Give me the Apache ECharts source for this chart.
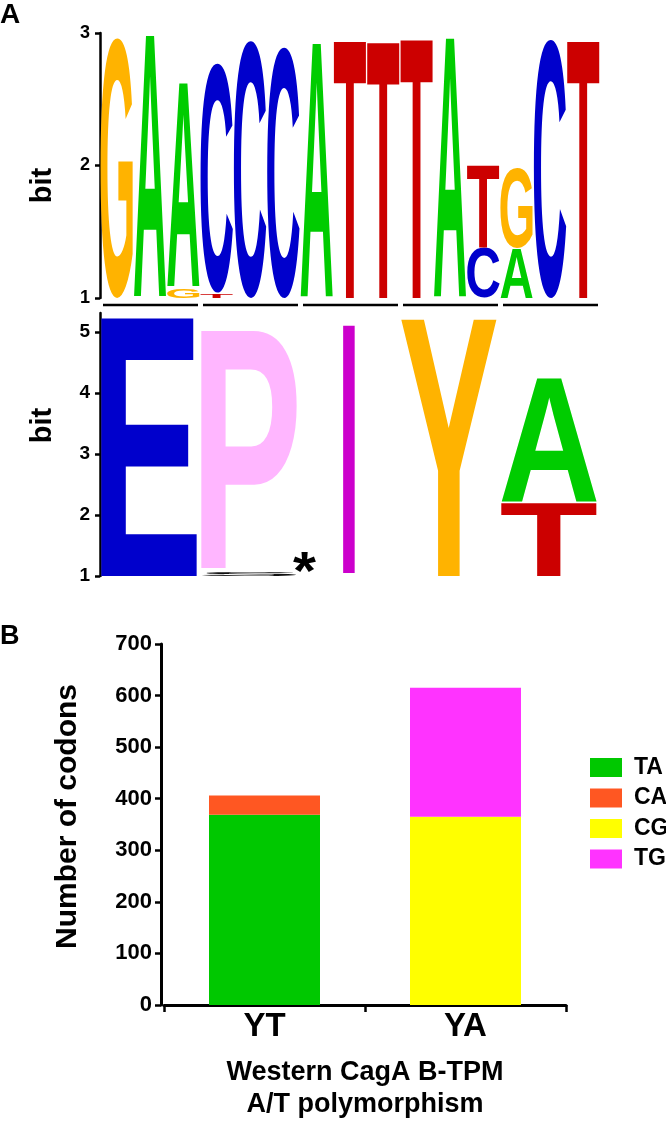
<!DOCTYPE html>
<html><head><meta charset="utf-8">
<script src="https://cdn.jsdelivr.net/npm/echarts@6/dist/echarts.min.js"></script>
<style>html,body{margin:0;padding:0;background:#fff}#c{width:666px;height:1122px}</style>
</head><body><div id="c"></div>
<script>
// ---------------- Data ----------------
// Panel A (top): nucleotide logo, 15 positions; each stack listed bottom -> top as [letter, bits]
const ntStacks = [
  [['G', 1.97]],
  [['A', 1.99]],
  [['G', 0.08], ['A', 1.55]],
  [['T', 0.04], ['C', 1.74]],
  [['C', 1.95]],
  [['C', 1.90]],
  [['A', 1.93]],
  [['T', 1.96]],
  [['T', 1.95]],
  [['T', 1.97]],
  [['A', 1.97]],
  [['C', 0.38], ['T', 0.63]],
  [['A', 0.38], ['G', 0.61]],
  [['C', 1.96]],
  [['T', 1.96]]
];
const ntColors = { A: '#00CC00', C: '#0000CC', G: '#FFB300', T: '#CC0000' };
const ntTicks = [1, 2, 3];
const codons = [1, 2, 3, 4, 5];
// Panel A (bottom): amino-acid logo, 5 positions
const aaStacks = [
  [['E', 4.25]],
  [['S', 0.07], [' ', 0.06], ['P', 3.94]],
  [[' ', 0.05], ['I', 4.11]],
  [['Y', 4.23]],
  [['T', 1.21], ['A', 2.05]]
];
const aaColors = { E: '#0000CC', P: '#FFB6FF', I: '#CC00CC', Y: '#FFB300', A: '#00CC00', T: '#CC0000', S: '#111111' };
const aaTicks = [1, 2, 3, 4, 5];
const logoBase = 1;
// Panel B: stacked bars
const categories = ['YT', 'YA'];
const seriesNames = ['TA', 'CA', 'CG', 'TG'];
const TA = [369, 0];
const CA = [37, 0];
const CG = [0, 365];
const TG = [0, 250];
const barColors = ['#00C800', '#FF5722', '#FFFF00', '#FF33FF'];

// ---------------- Helpers ----------------
const FF = '"Liberation Sans", Arial, Helvetica, sans-serif';
const GF = 'bold 200px ' + FF;
const mctx = document.createElement('canvas').getContext('2d');
const mcache = {};
function metrics(ch) {
  if (!mcache[ch]) {
    mctx.font = GF; mctx.textBaseline = 'middle'; mctx.textAlign = 'left';
    const m = mctx.measureText(ch);
    mcache[ch] = { l: m.actualBoundingBoxLeft, r: m.actualBoundingBoxRight, a: m.actualBoundingBoxAscent, d: m.actualBoundingBoxDescent };
  }
  return mcache[ch];
}
function fitGlyph(ch, x0, yTop, w, h, fill) {
  const m = metrics(ch);
  const sx = w / (m.l + m.r), sy = h / (m.a + m.d);
  return {
    type: 'text', x: x0 + sx * m.l, y: yTop + sy * m.a, scaleX: sx, scaleY: sy, silent: true,
    style: { text: ch, x: 0, y: 0, font: GF, fill: fill, align: 'left', verticalAlign: 'middle', textAlign: 'left', textVerticalAlign: 'middle' }
  };
}
function flatten(stacks) {
  const out = [];
  stacks.forEach((st, i) => {
    let y = logoBase;
    st.forEach(([ch, h]) => { out.push({ col: i + 1, y0: y, y1: y + h, ch: ch }); y += h; });
  });
  return out;
}
const ntMarks = flatten(ntStacks);
const aaMarks = flatten(aaStacks);

function ntRender(params, api) {
  const mk = ntMarks[params.dataIndex];
  if (mk.ch === ' ') return null;
  const pTL = api.coord([api.value(0) - 0.5, api.value(2)]);
  const pBR = api.coord([api.value(0) + 0.5, api.value(1)]);
  return fitGlyph(mk.ch, pTL[0] + 0.5, pTL[1] + 1, pBR[0] - pTL[0] - 1, pBR[1] - pTL[1] - 1, ntColors[mk.ch]);
}
function aaRender(params, api) {
  const mk = aaMarks[params.dataIndex];
  if (mk.ch === ' ') return null;
  const pTL = api.coord([api.value(0) - 0.5, api.value(2)]);
  const pBR = api.coord([api.value(0) + 0.5, api.value(1)]);
  let x0 = pTL[0] + 1, w = pBR[0] - pTL[0] - 4;
  if (mk.ch === 'I') { const cx = (pTL[0] + pBR[0]) / 2 - 1; w = 12; x0 = cx - w / 2; }
  return fitGlyph(mk.ch, x0, pTL[1] + 1, w, pBR[1] - pTL[1] - 1, aaColors[mk.ch]);
}
function underlineRender(params, api) {
  const k = api.value(0);
  const pL = api.coord([3 * k - 2.5, logoBase]);
  const pR = api.coord([3 * k + 0.5, logoBase]);
  return { type: 'line', silent: true, shape: { x1: pL[0] + 3, y1: pL[1] + 7, x2: pR[0] - 2, y2: pL[1] + 7 }, style: { stroke: '#000', lineWidth: 2.5 } };
}

const axisCommon = {
  axisLine: { show: true, lineStyle: { color: '#000', width: 2.5 } },
  splitLine: { show: false }
};

const chart = echarts.init(document.getElementById('c'), null, { renderer: 'canvas' });
const option = {
  animation: false,
  backgroundColor: '#fff',
  textStyle: { fontFamily: FF, color: '#000' },
  grid: [
    { left: 100, top: 33, width: 500, height: 265, outerBoundsMode: 'none' },
    { left: 100, top: 313, width: 500, height: 263, outerBoundsMode: 'none' },
    { left: 164, top: 644, width: 402, height: 361, outerBoundsMode: 'none' }
  ],
  xAxis: [
    { gridIndex: 0, type: 'value', min: 0.5, max: 15.5, show: false },
    { gridIndex: 1, type: 'value', min: 0.5, max: 5.5, show: false },
    {
      gridIndex: 2, type: 'category', data: categories,
      axisLine: { show: true, lineStyle: { color: '#000', width: 3 } },
      axisTick: { show: true, length: 7, lineStyle: { color: '#000', width: 2.5 } },
      axisLabel: { fontSize: 33, fontWeight: 'bold', color: '#000', margin: 5, fontFamily: FF },
      name: 'Western CagA B-TPM\nA/T polymorphism', nameLocation: 'middle', nameGap: 52,
      nameTextStyle: { fontSize: 27, fontWeight: 'bold', lineHeight: 32, color: '#000', fontFamily: FF }
    }
  ],
  yAxis: [
    Object.assign({}, axisCommon, {
      gridIndex: 0, type: 'value', min: 1, max: 3, interval: 1,
      axisLabel: { fontSize: 18, fontWeight: 'bold', color: '#000', margin: 10, fontFamily: FF, customValues: ntTicks },
      axisTick: { show: true, length: 5, lineStyle: { color: '#000', width: 2.5 }, customValues: ntTicks },
      name: 'bit', nameLocation: 'middle', nameGap: 43, nameRotate: 90,
      nameTextStyle: { fontSize: 29, fontWeight: 'bold', color: '#000', fontFamily: FF, padding: [0, 40, 0, 0] }
    }),
    Object.assign({}, axisCommon, {
      gridIndex: 1, type: 'value', min: 1, max: 5.31,
      axisLabel: { fontSize: 19, fontWeight: 'bold', color: '#000', margin: 10, fontFamily: FF, customValues: aaTicks },
      axisTick: { show: true, length: 5, lineStyle: { color: '#000', width: 2.5 }, customValues: aaTicks },
      name: 'bit', nameLocation: 'middle', nameGap: 43, nameRotate: 90,
      nameTextStyle: { fontSize: 29, fontWeight: 'bold', color: '#000', fontFamily: FF, padding: [0, 0, 0, 38] }
    }),
    Object.assign({}, axisCommon, {
      gridIndex: 2, type: 'value', min: 0, max: 700, interval: 100, offset: 3,
      axisLine: { show: true, lineStyle: { color: '#000', width: 3 } },
      axisTick: { show: true, length: 6, lineStyle: { color: '#000', width: 2.5 } },
      axisLabel: { fontSize: 22, fontWeight: 'bold', color: '#000', margin: 9, fontFamily: FF },
      name: 'Number of codons', nameLocation: 'middle', nameGap: 78, nameRotate: 90,
      nameTextStyle: { fontSize: 30, fontWeight: 'bold', color: '#000', fontFamily: FF, padding: [0, 0, 0, 16] }
    })
  ],
  legend: {
    data: seriesNames, orient: 'vertical', left: 590, top: 756, padding: 0,
    itemWidth: 32, itemHeight: 19, itemGap: 7.5, icon: 'rect', selectedMode: false,
    textStyle: { fontSize: 23, fontWeight: 'bold', color: '#000', fontFamily: FF, padding: [0, 0, 0, 7] }
  },
  series: [
    { type: 'custom', name: 'nt', xAxisIndex: 0, yAxisIndex: 0, clip: false, silent: true,
      renderItem: ntRender, encode: { x: 0, y: [1, 2] }, data: ntMarks.map(m => [m.col, m.y0, m.y1]) },
    { type: 'custom', name: 'codonLines', xAxisIndex: 0, yAxisIndex: 0, clip: false, silent: true,
      renderItem: underlineRender, encode: { x: 0 }, data: codons.map(k => [k]) },
    { type: 'custom', name: 'aa', xAxisIndex: 1, yAxisIndex: 1, clip: false, silent: true,
      renderItem: aaRender, encode: { x: 0, y: [1, 2] }, data: aaMarks.map(m => [m.col, m.y0, m.y1]) }
  ].concat(seriesNames.map((n, i) => ({
    type: 'bar', name: n, xAxisIndex: 2, yAxisIndex: 2, stack: 'codons', barWidth: 111,
    data: [TA, CA, CG, TG][i], itemStyle: { color: barColors[i] }, silent: true
  }))),
  graphic: [
    { type: 'text', left: 0, top: 1, style: { text: 'A', font: 'bold 28px ' + FF, fill: '#000' } },
    { type: 'text', left: 0, top: 623, style: { text: 'B', font: 'bold 27px ' + FF, fill: '#000' } }
  ]
};
chart.setOption(option);
// asterisk annotation beside the stop-codon sliver (codon 2)
const ap = chart.convertToPixel({ gridIndex: 1 }, [2.5, logoBase]);
const star = fitGlyph('*', ap[0] - 7, ap[1] - 24, 23, 20, '#000');
chart.setOption({ graphic: option.graphic.concat([star]) });
</script></body></html>
